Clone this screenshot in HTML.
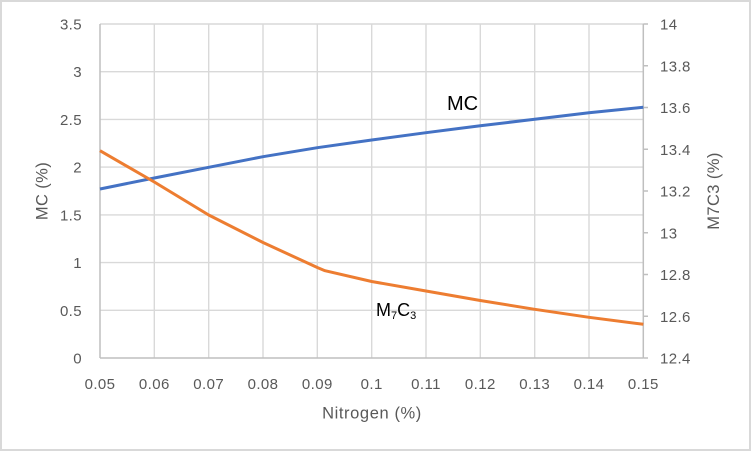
<!DOCTYPE html>
<html><head><meta charset="utf-8"><style>
html,body{margin:0;padding:0;background:#fff;}
svg{display:block;font-family:"Liberation Sans",Arial,sans-serif;}
</style></head><body>
<svg width="752" height="452" viewBox="0 0 752 452" xmlns="http://www.w3.org/2000/svg">
<rect x="0" y="0" width="752" height="452" fill="#fff"/>
<rect x="1" y="1" width="749" height="449" fill="none" stroke="#d9d9d9" stroke-width="2"/>
<g stroke="#d9d9d9" stroke-width="1.4" fill="none">
<line x1="100" y1="24" x2="643.3" y2="24"/>
<line x1="100" y1="71.7" x2="643.3" y2="71.7"/>
<line x1="100" y1="119.4" x2="643.3" y2="119.4"/>
<line x1="100" y1="167.1" x2="643.3" y2="167.1"/>
<line x1="100" y1="214.9" x2="643.3" y2="214.9"/>
<line x1="100" y1="262.6" x2="643.3" y2="262.6"/>
<line x1="100" y1="310.3" x2="643.3" y2="310.3"/>
<line x1="154.3" y1="24" x2="154.3" y2="358"/>
<line x1="208.7" y1="24" x2="208.7" y2="358"/>
<line x1="263" y1="24" x2="263" y2="358"/>
<line x1="317.3" y1="24" x2="317.3" y2="358"/>
<line x1="371.7" y1="24" x2="371.7" y2="358"/>
<line x1="426" y1="24" x2="426" y2="358"/>
<line x1="480.3" y1="24" x2="480.3" y2="358"/>
<line x1="534.7" y1="24" x2="534.7" y2="358"/>
<line x1="589" y1="24" x2="589" y2="358"/>
</g>
<g stroke="#bfbfbf" stroke-width="1.5" fill="none">
<line x1="100" y1="24" x2="100" y2="358"/>
<line x1="100" y1="358" x2="643.3" y2="358"/>
<line x1="643.3" y1="24" x2="643.3" y2="358"/>
<line x1="643.3" y1="24" x2="648" y2="24"/>
<line x1="643.3" y1="65.75" x2="648" y2="65.75"/>
<line x1="643.3" y1="107.5" x2="648" y2="107.5"/>
<line x1="643.3" y1="149.25" x2="648" y2="149.25"/>
<line x1="643.3" y1="191" x2="648" y2="191"/>
<line x1="643.3" y1="232.75" x2="648" y2="232.75"/>
<line x1="643.3" y1="274.5" x2="648" y2="274.5"/>
<line x1="643.3" y1="316.25" x2="648" y2="316.25"/>
<line x1="643.3" y1="358" x2="648" y2="358"/>
</g>
<polyline fill="none" stroke="#4472c4" stroke-width="3" stroke-linejoin="round" points="100,189 154.3,178 208.7,167.3 263,156.7 317.3,147.7 371.7,140 426,132.7 480.3,125.7 534.7,119.3 589,112.7 643.3,107.3"/>
<polyline fill="none" stroke="#ed7d31" stroke-width="3" stroke-linejoin="round" points="100,150.7 154.3,182 208.7,215 263,242.5 317.3,267.5 325,270.7 371.7,281.5 426,291 480.3,300.5 534.7,309.3 589,317.3 643.3,324.3"/>
<g fill="#595959" font-size="15" text-anchor="end" letter-spacing="0.4">
<text x="82" y="29.5">3.5</text>
<text x="82" y="77.2">3</text>
<text x="82" y="124.9">2.5</text>
<text x="82" y="172.6">2</text>
<text x="82" y="220.4">1.5</text>
<text x="82" y="268.1">1</text>
<text x="82" y="315.8">0.5</text>
<text x="82" y="363.5">0</text>
</g>
<g fill="#595959" font-size="15" text-anchor="start" letter-spacing="0.4">
<text x="660" y="29.5">14</text>
<text x="660" y="71.25">13.8</text>
<text x="660" y="113">13.6</text>
<text x="660" y="154.75">13.4</text>
<text x="660" y="196.5">13.2</text>
<text x="660" y="238.25">13</text>
<text x="660" y="280">12.8</text>
<text x="660" y="321.75">12.6</text>
<text x="660" y="363.5">12.4</text>
</g>
<g fill="#595959" font-size="15" text-anchor="middle" letter-spacing="0.4">
<text x="100" y="389">0.05</text>
<text x="154.3" y="389">0.06</text>
<text x="208.7" y="389">0.07</text>
<text x="263" y="389">0.08</text>
<text x="317.3" y="389">0.09</text>
<text x="371.7" y="389">0.1</text>
<text x="426" y="389">0.11</text>
<text x="480.3" y="389">0.12</text>
<text x="534.7" y="389">0.13</text>
<text x="589" y="389">0.14</text>
<text x="643.3" y="389">0.15</text>
</g>
<text x="372" y="418.5" fill="#595959" font-size="16.5" text-anchor="middle" letter-spacing="0.6">Nitrogen (%)</text>
<text transform="translate(47.5,191) rotate(-90)" fill="#595959" font-size="16.5" text-anchor="middle" letter-spacing="0.4">MC (%)</text>
<text transform="translate(719,191) rotate(-90)" fill="#595959" font-size="16.5" text-anchor="middle" letter-spacing="0.4">M7C3 (%)</text>
<text x="447" y="110" fill="#000" font-size="20">MC</text>
<text x="376" y="316" fill="#000" font-size="18">M<tspan font-size="11" dy="3">7</tspan><tspan dy="-3">C</tspan><tspan font-size="11" dy="3">3</tspan></text>
</svg>
</body></html>
